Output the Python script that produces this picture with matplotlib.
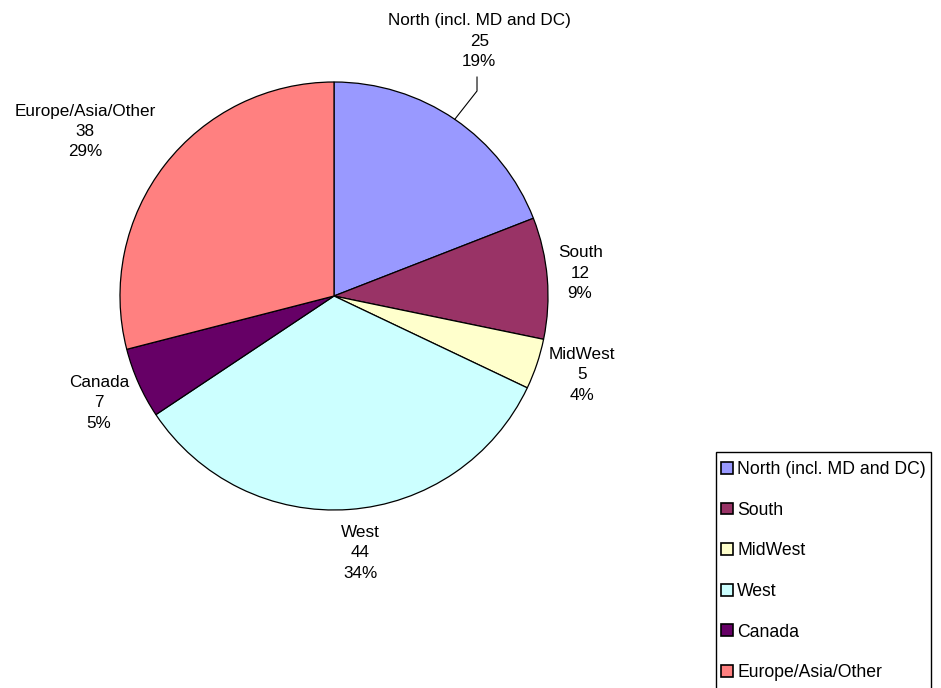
import numpy as np
import matplotlib
matplotlib.use("Agg")
import matplotlib.pyplot as plt
from matplotlib.patches import Rectangle

categories = ["North (incl. MD and DC)", "South", "MidWest", "West", "Canada", "Europe/Asia/Other"]
values = [25, 12, 5, 44, 7, 38]
percent_labels = ["19%", "9%", "4%", "34%", "5%", "29%"]
colors = ["#9999FF", "#993366", "#FFFFCC", "#CCFFFF", "#660066", "#FF8080"]

# label placement (style): radial distance and angle offset (deg) per label
label_dist = [1.371, 1.155, 1.216, 1.207, 1.207, 1.396]
label_dang = [4.7, 0.5, 0.9, 1.7, 0.4, 4.3]

plt.rcParams['font.family'] = ['Liberation Sans', 'DejaVu Sans']
W, H = 941, 688
fig = plt.figure(figsize=(W / 100, H / 100), dpi=100)
cx, cy, r = 334, 296, 214
ax = fig.add_axes([(cx - r) / W, (H - cy - r) / H, 2 * r / W, 2 * r / H])
wedges, _ = ax.pie(values, colors=colors, startangle=90, counterclock=False,
                   wedgeprops=dict(edgecolor="black", linewidth=0.9), radius=1.0)
ax.set_xlim(-1, 1)
ax.set_ylim(-1, 1)
ax.set_aspect("equal")
ax.axis("off")

fs = 12.3
label_x = []
for i, w in enumerate(wedges):
    mid = np.deg2rad((w.theta1 + w.theta2) / 2 + label_dang[i])
    d = label_dist[i]
    x, y = d * np.cos(mid), d * np.sin(mid)
    label_x.append(x)
    ax.text(x, y, f"{categories[i]}\n{values[i]}\n{percent_labels[i]}", ha="center", va="center",
            fontsize=fs, linespacing=1.43, clip_on=False)

# leader line for North label
w0 = wedges[0]
m0 = np.deg2rad((w0.theta1 + w0.theta2) / 2)
px, py = np.cos(m0), np.sin(m0)
lx = label_x[0] - 0.01
ax.plot([px, lx, lx], [py, 0.958, 1.023], color="black", lw=0.8, clip_on=False)

# legend
lfs = 12.7
handles = [Rectangle((0, 0), 1, 1, facecolor=c, edgecolor="black", linewidth=1.2) for c in colors]
leg = fig.legend(handles, categories, loc="upper left",
                 bbox_to_anchor=(721 / W, (H - 461) / H), fontsize=lfs,
                 frameon=False, borderaxespad=0, borderpad=0,
                 handlelength=0.68, handleheight=0.65, handletextpad=0.23,
                 labelspacing=1.34)
fig.patches.append(Rectangle((716 / W, -0.05), (931 - 716) / W, (H - 452) / H + 0.05,
                             transform=fig.transFigure, facecolor="none",
                             edgecolor="black", linewidth=1.0, figure=fig))

fig.savefig("out.png", dpi=100)
